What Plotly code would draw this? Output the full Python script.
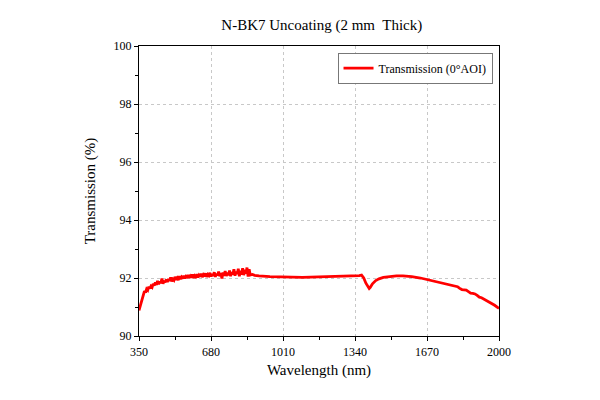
import plotly.graph_objects as go

title_text = "N-BK7 Uncoating (2 mm  Thick)"
series_name = "Transmission (0°AOI)"
x_title = "Wavelength (nm)"
y_title = "Transmission (%)"
x_ticks = [350, 680, 1010, 1340, 1670, 2000]
y_ticks = [90, 92, 94, 96, 98, 100]

wavelength = [
    350, 355, 360, 365, 370, 375, 380, 385, 390, 395,
    400, 405, 410, 415, 420, 425, 430, 435, 440, 445,
    450, 455, 460, 465, 470, 475, 480, 485, 490, 495,
    500, 505, 510, 515, 520, 525, 530, 535, 540, 545,
    550, 555, 560, 565, 570, 575, 580, 585, 590, 595,
    600, 605, 610, 615, 620, 625, 630, 635, 640, 645,
    650, 655, 660, 665, 670, 675, 680, 685, 690, 695,
    700, 705, 710, 715, 720, 725, 730, 735, 740, 745,
    750, 755, 760, 765, 770, 775, 780, 785, 790, 795,
    800, 805, 810, 815, 820, 825, 830, 835, 840, 845,
    850, 855, 860, 870, 880, 900, 950, 1000, 1050, 1100,
    1150, 1200, 1250, 1300, 1340, 1360, 1370, 1380, 1390, 1400,
    1405, 1410, 1420, 1435, 1450, 1470, 1500, 1530, 1560, 1600,
    1640, 1670, 1700, 1740, 1780, 1800, 1810, 1820, 1830, 1840,
    1850, 1860, 1870, 1880, 1890, 1900, 1910, 1920, 1940, 1960,
    1980, 2000,
]
transmission = [
    90.88, 91.02, 91.10, 91.32, 91.41, 91.55, 91.50, 91.62, 91.58, 91.70,
    91.64, 91.72, 91.68, 91.80, 91.74, 91.85, 91.76, 91.90, 91.78, 91.88,
    91.82, 91.98, 91.80, 91.90, 91.85, 91.95, 91.86, 91.97, 91.90, 92.02,
    91.88, 91.96, 91.92, 92.04, 91.94, 92.00, 91.93, 92.06, 91.96, 92.03,
    91.98, 92.08, 91.99, 92.05, 92.00, 92.10, 92.01, 92.07, 92.02, 92.12,
    92.00, 92.08, 92.04, 92.13, 92.02, 92.10, 92.05, 92.15, 92.03, 92.11,
    92.06, 92.16, 92.04, 92.12, 92.08, 92.18, 92.05, 92.14, 92.07, 92.20,
    92.04, 92.15, 92.09, 92.22, 92.06, 92.17, 91.98, 92.19, 92.08, 92.24,
    92.07, 92.18, 92.10, 92.26, 92.06, 92.20, 92.12, 92.30, 92.08, 92.22,
    92.14, 92.32, 92.06, 92.25, 92.12, 92.34, 92.10, 92.28, 92.15, 92.36,
    92.05, 92.30, 92.10, 92.12, 92.09, 92.07, 92.05, 92.03, 92.03, 92.02,
    92.03, 92.03, 92.04, 92.05, 92.06, 92.08, 92.10, 92.00, 91.82, 91.68,
    91.64, 91.68, 91.80, 91.91, 91.97, 92.02, 92.05, 92.07, 92.07, 92.05,
    92.00, 91.95, 91.90, 91.83, 91.75, 91.71, 91.70, 91.64, 91.60, 91.59,
    91.58, 91.53, 91.48, 91.47, 91.45, 91.40, 91.34, 91.32, 91.24, 91.16,
    91.06, 90.95,
]

font_family = "Liberation Serif"

fig = go.Figure()
fig.add_trace(go.Scatter(
    x=wavelength, y=transmission, mode="lines", name=series_name,
    line=dict(color="#ff0000", width=2.8),
))

fig.update_layout(
    width=600, height=400,
    paper_bgcolor="white", plot_bgcolor="white",
    margin=dict(l=131, r=109, t=38, b=72),
    font=dict(family=font_family, color="black"),
    title=dict(text=title_text, x=0.523, xanchor="center", y=0.9575, yanchor="middle",
               font=dict(size=15, family=font_family, color="black")),
    showlegend=True,
    legend=dict(x=0.982, y=0.977, xanchor="right", yanchor="top",
                bgcolor="white", bordercolor="#777777", borderwidth=1,
                font=dict(size=12, family=font_family),
                itemwidth=30, tracegroupgap=0),
)

fig.update_xaxes(
    range=[350, 2000], tickvals=x_ticks, ticktext=[str(v) for v in x_ticks],
    showline=True, linecolor="black", linewidth=1.3, mirror=True,
    ticks="outside", ticklen=4, tickwidth=1, tickcolor="black",
    showgrid=True, gridcolor="#c8c8c8", griddash="dot", gridwidth=1,
    zeroline=False,
    tickfont=dict(size=12, family=font_family),
    title=dict(text=x_title, font=dict(size=15, family=font_family), standoff=6),
    minor=dict(tickvals=[515, 845, 1175, 1505, 1835], ticks="outside",
               ticklen=3, tickcolor="black", showgrid=False),
)
fig.update_yaxes(
    range=[90, 100], tickvals=y_ticks, ticktext=[str(v) for v in y_ticks],
    showline=True, linecolor="black", linewidth=1.3, mirror=True,
    ticks="outside", ticklen=4, tickwidth=1, tickcolor="black",
    showgrid=True, gridcolor="#c8c8c8", griddash="dot", gridwidth=1,
    zeroline=False,
    tickfont=dict(size=12, family=font_family),
    title=dict(text=y_title, font=dict(size=15, family=font_family), standoff=14),
    minor=dict(tickvals=[91, 93, 95, 97, 99], ticks="outside",
               ticklen=3, tickcolor="black", showgrid=False),
)

fig.write_html("out.html")
